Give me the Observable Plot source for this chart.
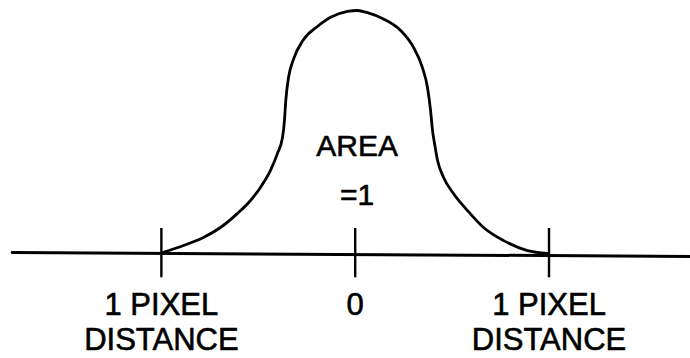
<!DOCTYPE html>
<html>
<head>
<meta charset="utf-8">
<script src="https://cdn.jsdelivr.net/npm/d3@7"></script>
<script src="https://cdn.jsdelivr.net/npm/@observablehq/plot@0.6"></script>
<style>
  html, body { margin: 0; padding: 0; background: #fff; }
</style>
</head>
<body>
<div id="chart"></div>
<script>
// Distance from centre, in pixels (tick positions)
const tickValues = [-1, 0, 1];
const tickLabels = ["1 PIXEL\nDISTANCE", "0", "1 PIXEL\nDISTANCE"];
const tickExtent = [-0.1, 0.103];

// Bell-shaped filter curve: distance (pixels) and relative height
const curveU = [-0.994, -0.886, -0.783, -0.695, -0.607, -0.540, -0.489, -0.437, -0.401, -0.375,
  -0.365, -0.358, -0.344, -0.318, -0.267, -0.195, -0.127, -0.040, 0.012,
  0.063, 0.146, 0.234, 0.301, 0.347, 0.373, 0.389, 0.399, 0.410, 0.425, 0.456, 0.507,
  0.579, 0.662, 0.766, 0.889, 0.992];
const curveV = [0.004, 0.033, 0.066, 0.107, 0.165, 0.218, 0.272, 0.342, 0.412, 0.477,
  0.547, 0.630, 0.724, 0.800, 0.880, 0.934, 0.972, 0.996, 1.0,
  0.991, 0.965, 0.918, 0.848, 0.765, 0.683, 0.588, 0.506, 0.450, 0.383, 0.313, 0.247,
  0.177, 0.107, 0.053, 0.012, 0.0];

// Horizontal axis line (distance extent, height)
const axisU = [-1.77, 1.73];
const axisV = [0.004, -0.012];

// Annotation inside the curve
const areaLabels = ["AREA", "=1"];
const areaLabelV = [0.403, 0.198];

const curve = curveU.map((u, i) => ({u, v: curveV[i]}));
const axisLine = axisU.map((u, i) => ({u, v: axisV[i]}));
const ticks = tickValues.map((u, i) => ({u, label: tickLabels[i]}));
const area = areaLabels.map((t, i) => ({u: 0.01, v: areaLabelV[i], t}));

const chart = Plot.plot({
  width: 690,
  height: 358,
  marginLeft: 0,
  marginRight: 0,
  marginTop: 10,
  marginBottom: 105,
  x: {domain: [-1.83, 1.73], axis: null},
  y: {domain: [0, 1], axis: null},
  style: {background: "#fff", fontFamily: "'Liberation Sans', Arial, sans-serif", color: "#000"},
  marks: [
    Plot.line(axisLine, {x: "u", y: "v", stroke: "#000", strokeWidth: 3}),
    Plot.ruleX(ticks, {x: "u", y1: tickExtent[0], y2: tickExtent[1], stroke: "#000", strokeWidth: 2.4}),
    Plot.line(curve, {x: "u", y: "v", stroke: "#000", strokeWidth: 2.8, curve: "monotone-x"}),
    Plot.text(ticks, {x: "u", y: 0, text: "label", lineAnchor: "top", dy: 37, fontSize: 31, lineHeight: 1.13, fill: "#000", stroke: "#000", strokeWidth: 0.6}),
    Plot.text(area, {x: "u", y: "v", text: "t", lineAnchor: "bottom", fontSize: 30, fill: "#000", stroke: "#000", strokeWidth: 0.6})
  ]
});
document.getElementById("chart").appendChild(chart);
</script>
</body>
</html>
